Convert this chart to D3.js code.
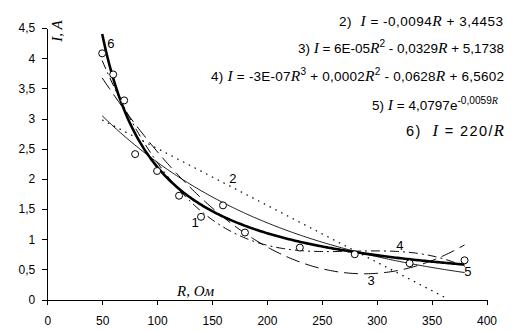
<!DOCTYPE html>
<html><head><meta charset="utf-8">
<script src="https://cdn.jsdelivr.net/npm/d3@7"></script>
<style>body{margin:0;background:#fff}svg{display:block}</style></head>
<body><svg id="c" width="515" height="332"></svg>
<script>
// ---- data ----
const resistance = [50, 60, 70, 80, 100, 120, 140, 160, 180, 230, 280, 330, 380];
const current    = [4.08, 3.73, 3.30, 2.41, 2.13, 1.72, 1.37, 1.56, 1.11, 0.86, 0.75, 0.60, 0.65];
const xTicks = [0, 50, 100, 150, 200, 250, 300, 350, 400];
const yTicks = [0, 0.5, 1, 1.5, 2, 2.5, 3, 3.5, 4, 4.5];
const hyperbolaK = 220;              // curve 6: I = 220/R
const linearEnd = 362;               // curve 2 drawn until it meets the axis
const curveIds = ["2", "3", "4", "5", "6"];
const eq2 = [["2)  ","n"],["I","i"],[" = -0,0094","n"],["R","i"],[" + 3,4453","n"]];
const eq3 = [["3) ","n"],["I","i"],[" = 6E-05","n"],["R","i"],["2","s"],[" - 0,0329","n"],["R","i"],[" + 5,1738","n"]];
const eq4 = [["4) ","n"],["I","i"],[" = -3E-07","n"],["R","i"],["3","s"],[" + 0,0002","n"],["R","i"],["2","s"],[" - 0,0628","n"],["R","i"],[" + 6,5602","n"]];
const eq5 = [["5) ","n"],["I","i"],[" = 4,0797e","n"],["-0,0059","s"],["R","si"]];
const eq6 = [["6)  ","n"],["I","i"],[" = 220/","n"],["R","i"]];

// ---- least-squares trend lines (as the original spreadsheet computed them) ----
function polyFit(xs, ys, deg) {
  const n = deg + 1;
  const A = Array.from({length: n}, () => new Array(n + 1).fill(0));
  xs.forEach((x, k) => {
    for (let i = 0; i < n; i++) {
      for (let j = 0; j < n; j++) A[i][j] += Math.pow(x, i + j);
      A[i][n] += ys[k] * Math.pow(x, i);
    }
  });
  for (let c = 0; c < n; c++) {
    let p = c;
    for (let r = c + 1; r < n; r++) if (Math.abs(A[r][c]) > Math.abs(A[p][c])) p = r;
    [A[c], A[p]] = [A[p], A[c]];
    for (let r = 0; r < n; r++) {
      if (r === c) continue;
      const f = A[r][c] / A[c][c];
      for (let j = c; j <= n; j++) A[r][j] -= f * A[c][j];
    }
  }
  const coef = A.map((row, i) => row[n] / row[i]);
  return x => coef.reduce((s, c, i) => s + c * Math.pow(x, i), 0);
}
const lin = polyFit(resistance, current, 1);
const quad = polyFit(resistance, current, 2);
const cub = polyFit(resistance, current, 3);
const expLin = polyFit(resistance, current.map(Math.log), 1);
const expo = x => Math.exp(expLin(x));
const hyp = x => hyperbolaK / x;

// ---- layout ----
const svg = d3.select("#c");
const x = d3.scaleLinear().domain([0, 400]).range([47.3, 486.5]);
const y = d3.scaleLinear().domain([0, 4.5]).range([299.5, 28]);
const fmt = d => String(d).replace(".", ",");
const sans = "'Liberation Sans', Arial, sans-serif";
const serif = "'Liberation Serif', 'Times New Roman', serif";

const gx = svg.append("g").attr("transform", `translate(0,${y(0)})`)
  .call(d3.axisBottom(x).tickValues(xTicks).tickFormat(fmt).tickSize(5).tickSizeOuter(0));
const gy = svg.append("g").attr("transform", `translate(${x(0)},0)`)
  .call(d3.axisLeft(y).tickValues(yTicks).tickFormat(fmt).tickSize(5).tickSizeOuter(0));
[gx, gy].forEach(g => {
  g.selectAll("path,line").attr("stroke", "#000").attr("stroke-width", 1).attr("shape-rendering", "crispEdges");
  g.selectAll("text").attr("fill", "#000").attr("font-family", sans).attr("font-size", 12);
});
gx.selectAll("text").attr("dy", "1.45em");
gy.selectAll("text").attr("x", -12);

// ---- curves ----
const sample = (f, a, b) => d3.range(0, 201).map(i => { const r = a + (b - a) * i / 200; return [r, f(r)]; });
const rMin = d3.min(resistance), rMax = d3.max(resistance);
const line = d3.line().x(d => x(d[0])).y(d => y(d[1]));
const curves = {
  "2": {pts: sample(lin, rMin, linearEnd), dash: "1.5,5", w: 1.2},
  "3": {pts: sample(quad, rMin, rMax), dash: "14,6", w: 1},
  "4": {pts: sample(cub, rMin, rMax), dash: "9,4,2,4", w: 1},
  "5": {pts: sample(expo, rMin, rMax), dash: null, w: 0.9},
  "6": {pts: sample(hyp, rMin, rMax), dash: null, w: 2.6}
};
curveIds.forEach(id => {
  const c = curves[id];
  svg.append("path").attr("d", line(c.pts)).attr("fill", "none").attr("stroke", "#000")
    .attr("stroke-width", c.w).attr("stroke-dasharray", c.dash);
});

// ---- measured points (series 1) ----
svg.append("g").selectAll("circle").data(resistance).join("circle")
  .attr("cx", (d) => x(d)).attr("cy", (d, i) => y(current[i])).attr("r", 3.5)
  .attr("fill", "#fff").attr("stroke", "#000").attr("stroke-width", 1);

// ---- curve number labels ----
const labelAt = [["6", 58, 4.24], ["2", 169, 2.01], ["1", 134.6, 1.28], ["4", 321, 0.89], ["3", 295, 0.31], ["5", 383, 0.46]];
labelAt.forEach(([t, r, v]) => svg.append("text").attr("x", x(r)).attr("y", y(v))
  .attr("text-anchor", "middle").attr("dominant-baseline", "central")
  .attr("font-family", sans).attr("font-size", 13).text(t));

// ---- axis titles ----
svg.append("text").attr("transform", `translate(62,31) rotate(-90)`).attr("text-anchor", "middle")
  .attr("font-family", serif).attr("font-style", "italic").attr("font-size", 15).text("I, A");
svg.append("text").attr("x", 177).attr("y", 296)
  .attr("font-family", serif).attr("font-style", "italic").attr("font-size", 15).text("R, Ом");

// ---- equations ----
function drawEq(parts, x0, x1, yb, fs) {
  const t = svg.append("text").attr("x", x0).attr("y", yb)
    .attr("textLength", x1 - x0).attr("lengthAdjust", "spacing")
    .attr("xml:space", "preserve")
    .attr("font-family", sans).attr("font-size", fs);
  let shift = 0;
  parts.forEach(([s, k]) => {
    const sup = k === "s" || k === "si";
    const it = k === "i" || k === "si";
    const sp = t.append("tspan").text(s)
      .attr("font-family", it ? serif : sans)
      .attr("font-style", it ? "italic" : "normal")
      .attr("font-size", sup ? fs * 0.75 : (it ? fs * 1.15 : fs));
    const want = sup ? -0.45 * fs : 0;
    if (want !== shift) { sp.attr("dy", want - shift); shift = want; }
  });
}
drawEq(eq2, 339, 503, 26, 13.5);
drawEq(eq3, 298, 504, 53, 13.5);
drawEq(eq4, 211, 504, 81, 13.5);
drawEq(eq5, 372, 498, 110, 13.5);
drawEq(eq6, 406, 504, 136, 14.5);
</script></body></html>
